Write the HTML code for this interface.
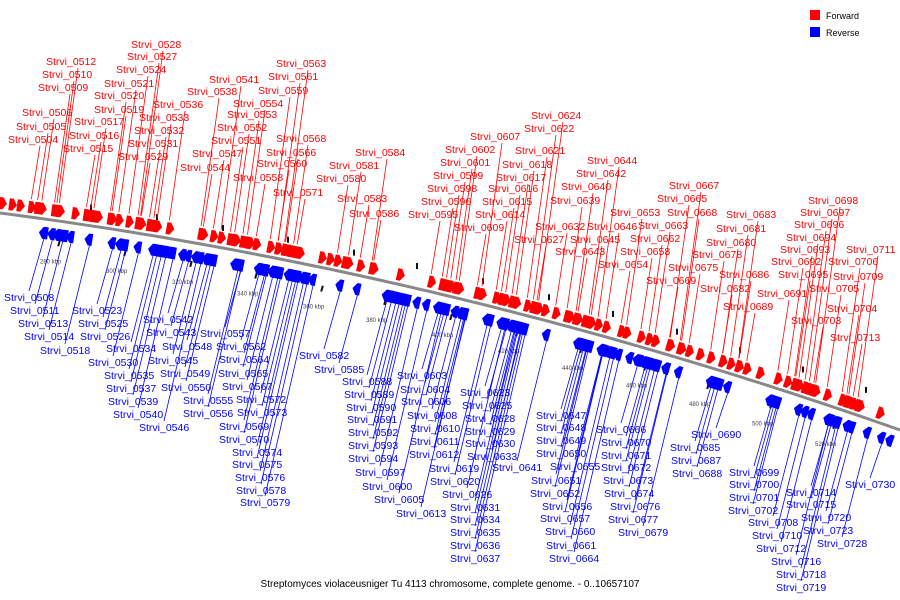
<!DOCTYPE html>
<html><head><meta charset="utf-8"><style>
body{margin:0;background:#fff;}
svg{display:block;font-family:"Liberation Sans","DejaVu Sans",sans-serif;}
</style></head><body>
<svg id="map" width="900" height="600" viewBox="0 0 900 600" xmlns="http://www.w3.org/2000/svg">
<g id="ticks"></g>
<path id="axis" fill="none" stroke="#888" stroke-width="3"/>
<g id="genes"></g>
<g id="labels"></g>
<g>
<rect x="810" y="10" width="10" height="10" fill="#f00"/>
<text x="826" y="19" font-size="9">Forward</text>
<rect x="810" y="27" width="10" height="10" fill="#00f"/>
<text x="826" y="36" font-size="9">Reverse</text>
</g>
<text x="450" y="587" font-size="10" text-anchor="middle">Streptomyces violaceusniger Tu 4113 chromosome, complete genome. - 0..10657107</text>
</svg>
<script>
const NS="http://www.w3.org/2000/svg";
const tickLabels=["280 kbp","300 kbp","320 kbp","340 kbp","360 kbp","380 kbp","400 kbp","420 kbp","440 kbp","460 kbp","480 kbp","500 kbp","520 kbp"];
const tickX=[40,106,172,237,303,366,432,498,562,626,689,752,815];
const fwdNames=["0528","0527","0512","0524","0510","0521","0509","0520","0519","0506","0517","0505","0516","0504","0515","0541","0538","0536","0533","0532","0531","0529","0563","0561","0559","0554","0553","0552","0551","0547","0544","0568","0566","0560","0558","0571","0584","0581","0580","0583","0586","0624","0622","0607","0621","0602","0601","0618","0599","0617","0644","0642","0598","0616","0640","0596","0615","0639","0595","0614","0653","0646","0609","0632","0627","0645","0643","0663","0662","0658","0654","0667","0665","0668","0683","0681","0680","0678","0675","0669","0686","0682","0689","0698","0697","0696","0694","0693","0692","0691","0695","0711","0706","0709","0705","0704","0703","0713"];
const fwdX=[131,127,46,116,42,104,38,94,94,22,74,16,69,8,63,209,187,153,139,134,128,118,276,268,258,233,227,217,211,192,180,276,266,257,233,273,355,329,316,337,349,531,524,470,515,445,440,502,433,496,587,576,427,488,561,421,482,550,408,475,610,587,454,535,514,570,555,638,630,620,598,669,657,667,726,716,706,692,668,646,719,700,723,808,800,794,786,780,771,757,778,846,828,833,809,827,791,830];
const fwdY=[48,60,65,73,78,87,91,99,113,116,125,130,139,143,152,83,95,108,121,134,147,160,67,80,94,107,118,131,144,157,171,142,156,167,181,196,156,169,182,202,217,119,132,140,154,153,166,168,179,181,164,177,192,192,190,205,205,204,218,218,216,230,231,230,243,243,255,229,242,255,268,189,202,216,218,232,246,258,271,284,278,292,310,204,216,228,241,253,265,297,278,253,265,280,292,312,324,341];
const revNames=["0508","0511","0513","0514","0518","0523","0525","0526","0534","0530","0535","0537","0539","0540","0546","0542","0543","0548","0545","0549","0550","0555","0556","0557","0562","0564","0565","0567","0572","0573","0569","0570","0574","0575","0576","0578","0579","0582","0585","0588","0589","0590","0591","0592","0593","0594","0597","0600","0605","0613","0603","0604","0606","0608","0610","0611","0612","0619","0620","0626","0631","0634","0635","0636","0637","0623","0625","0628","0629","0630","0633","0641","0647","0648","0649","0650","0655","0651","0652","0656","0657","0660","0661","0664","0666","0670","0671","0672","0673","0674","0676","0677","0679","0690","0685","0687","0688","0699","0700","0701","0702","0708","0710","0712","0716","0718","0719","0714","0715","0720","0723","0728","0730"];
const revX=[4,10,18,24,40,72,78,80,106,88,104,106,108,113,139,143,146,162,148,160,161,183,183,200,216,219,218,222,236,237,219,219,232,232,235,236,240,299,314,342,344,346,347,348,348,348,355,362,374,396,397,400,401,407,410,410,409,429,430,442,450,450,450,450,450,460,462,465,465,465,467,492,536,536,536,536,550,531,530,542,540,545,546,549,596,601,601,601,603,604,610,608,618,691,670,671,672,729,729,729,728,748,752,756,771,776,776,786,786,801,803,817,845];
const revY=[301,314,327,340,354,314,327,340,352,366,379,392,405,418,431,323,336,350,364,377,391,404,417,337,350,363,377,390,403,416,430,443,456,468,481,494,506,359,373,385,398,411,423,436,449,462,476,490,503,517,379,393,405,419,432,445,458,472,485,498,511,523,536,549,562,396,409,422,435,447,460,471,419,431,444,457,470,484,497,510,522,535,549,562,433,446,459,471,484,497,510,523,536,438,451,464,477,476,488,501,514,526,539,552,565,578,591,496,508,521,534,547,488];
const extraFwd=[2,12,20,60,75,98,140,150,236,250,290,300,322,330,345,400,545,570,585,700,760,860,880];
const extraRev=[45,58,65,120,160,165,170,235,260,275,390,395,580,590,605,630,640,655,715,720,770,890];

function axisY(x){return 213+0.1295*x+0.000124*x*x;}
function slope(x){return 0.1295+0.000248*x;}
function mk(tag,attrs,parent){const e=document.createElementNS(NS,tag);for(const k in attrs)e.setAttribute(k,attrs[k]);parent.appendChild(e);return e;}

let d="M0 "+axisY(0).toFixed(1);
for(let x=10;x<=900;x+=10)d+=" L"+x+" "+axisY(x).toFixed(1);
document.getElementById('axis').setAttribute('d',d);

const tg=document.getElementById('ticks');
tickLabels.forEach((t,i)=>{
  const x=tickX[i],y=axisY(x);
  const tx=mk('text',{x:x,y:y+45,'font-size':6,fill:'#444'},tg);
  tx.textContent=t;
  
  
  const m=mk('rect',{x:x+18,y:y+22,width:2,height:6,fill:'#111',transform:`rotate(15 ${x+19} ${y+25})`},tg);
  
  
  const m2=mk('rect',{x:x+50,y:y-14,width:2,height:6,fill:'#111'},tg);
  
  
});

const gg=document.getElementById('genes');
function gene(gx,fwd){
  const ang=Math.atan(slope(gx))*180/Math.PI;
  const cy=axisY(gx)+(fwd?-10:14);
  const pts=fwd?"-3,-6 1,-6 5,0 1,6 -3,6":"3,-6 -1,-6 -5,0 -1,6 3,6";
  const p=mk('polygon',{points:pts,fill:fwd?'#f00':'#00f',transform:`translate(${gx} ${cy}) rotate(${ang})`},gg);
  
  
}
const lg=document.getElementById('labels');
fwdNames.forEach((n,i)=>{
  const lx=fwdX[i],ly=fwdY[i];
  const blue=(n==="0507"||n==="0638");
  const tx=lx+32,ty=ly+3;
  let gx=tx-(axisY(tx)-ty)*0.12;
  const by=axisY(gx)-18;
  const col=blue?'#00f':'#f00';
  const ln=mk('line',{x1:tx,y1:ty,x2:gx,y2:by,stroke:col,'stroke-width':0.8},lg);
  
  
  const t=mk('text',{x:lx,y:ly,'font-size':10.5,fill:col},lg);
  t.textContent="Strvi_"+n;
  
  
  gene(gx,!blue);
});
revNames.forEach((n,i)=>{
  const lx=revX[i],ly=revY[i];
  const bx=lx+25,by=ly-10;
  let gx=bx+(by-axisY(bx))*0.2;
  const ty=axisY(gx)+20;
  const ln=mk('line',{x1:bx,y1:by,x2:gx,y2:ty,stroke:'#00f','stroke-width':0.8},lg);
  
  
  const t=mk('text',{x:lx,y:ly,'font-size':10.5,fill:'#00f'},lg);
  t.textContent="Strvi_"+n;
  
  
  gene(gx,false);
});
extraFwd.forEach(x=>gene(x,true));
extraRev.forEach(x=>gene(x,false));
</script>
</body></html>
